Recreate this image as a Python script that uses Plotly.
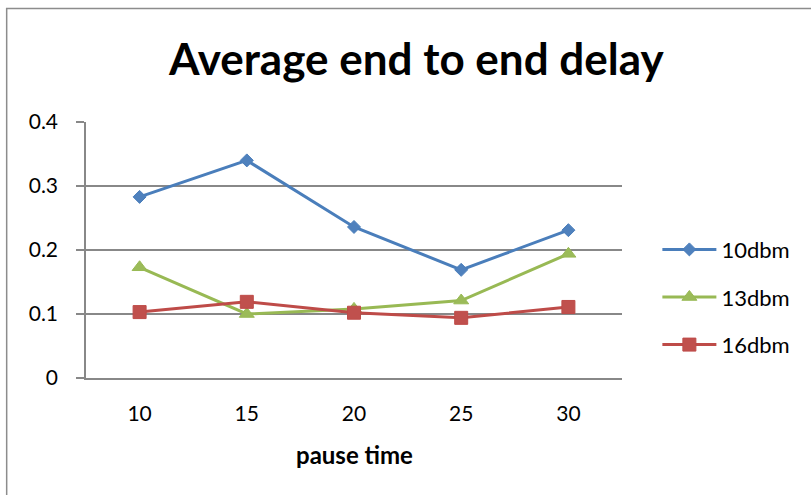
import plotly.graph_objects as go

# Pause time categories and average end-to-end delay per transmit power
pause_time = ["10", "15", "20", "25", "30"]
delay_10dbm = [0.283, 0.340, 0.236, 0.169, 0.231]
delay_13dbm = [0.173, 0.100, 0.108, 0.121, 0.194]
delay_16dbm = [0.103, 0.119, 0.102, 0.094, 0.111]
y_ticks = [0, 0.1, 0.2, 0.3, 0.4]
y_tick_text = ["0", "0.1", "0.2", "0.3", "0.4"]

FONT = "Lato"
GRID = "#888888"

series = [
    ("10dbm", delay_10dbm, "#4A7EBB", "#4F81BD", "diamond", 10),
    ("13dbm", delay_13dbm, "#98B954", "#9BBB59", "triangle-up", 13),
    ("16dbm", delay_16dbm, "#BE4B48", "#C0504D", "square", 13),
]

fig = go.Figure()
for i, (name, vals, line_c, mark_c, sym, sz) in enumerate(series):
    fig.add_trace(go.Scatter(
        x=pause_time, y=vals, name=name, mode="lines+markers",
        line=dict(color=line_c, width=3),
        marker=dict(symbol=sym, size=sz, color=mark_c,
                    line=dict(color=line_c, width=1)),
        legendgroup=f"g{i}",
    ))

fig.update_layout(
    width=811, height=495, autosize=False,
    margin=dict(l=86, r=189, t=122, b=117),
    paper_bgcolor="white", plot_bgcolor="white",
    font=dict(family=FONT, size=21, color="black"),
    showlegend=True,
    legend=dict(
        x=1.066, y=0.316, xanchor="left", yanchor="middle",
        font=dict(family=FONT, size=22, color="black"),
        itemwidth=54,
        tracegroupgap=16, bgcolor="rgba(0,0,0,0)",
    ),
    xaxis=dict(
        type="category", range=[-0.5, 4.5],
        showgrid=False, showline=True, linecolor=GRID, linewidth=1.5,
        ticks="", ticklabelstandoff=16,
        tickfont=dict(family=FONT, size=21),
    ),
    yaxis=dict(
        range=[0, 0.4], tickvals=y_ticks, ticktext=y_tick_text,
        showgrid=True, gridcolor=GRID, gridwidth=1.5, zeroline=False,
        showline=True, linecolor=GRID, linewidth=1.5,
        ticks="outside", ticklen=8, tickcolor=GRID, tickwidth=1.5,
        ticklabelstandoff=14,
        tickfont=dict(family=FONT, size=21),
    ),
    annotations=[
        dict(text="<b>Average end to end delay</b>", x=0.616, y=1.25,
             xref="paper", yref="paper", xanchor="center", yanchor="middle",
             showarrow=False, font=dict(family=FONT, size=44, color="black")),
        dict(text="<b>pause time</b>", x=0.5, y=-0.30,
             xref="paper", yref="paper", xanchor="center", yanchor="middle",
             showarrow=False, font=dict(family=FONT, size=24, color="black")),
    ],
    shapes=[
        dict(type="rect", xref="paper", yref="paper",
             x0=-0.148, x1=1.6, y0=-0.6, y1=1.443,
             line=dict(color="#8C8C8C", width=1.5), fillcolor="rgba(0,0,0,0)",
             layer="below"),
    ],
)

fig.write_html("out.html")
